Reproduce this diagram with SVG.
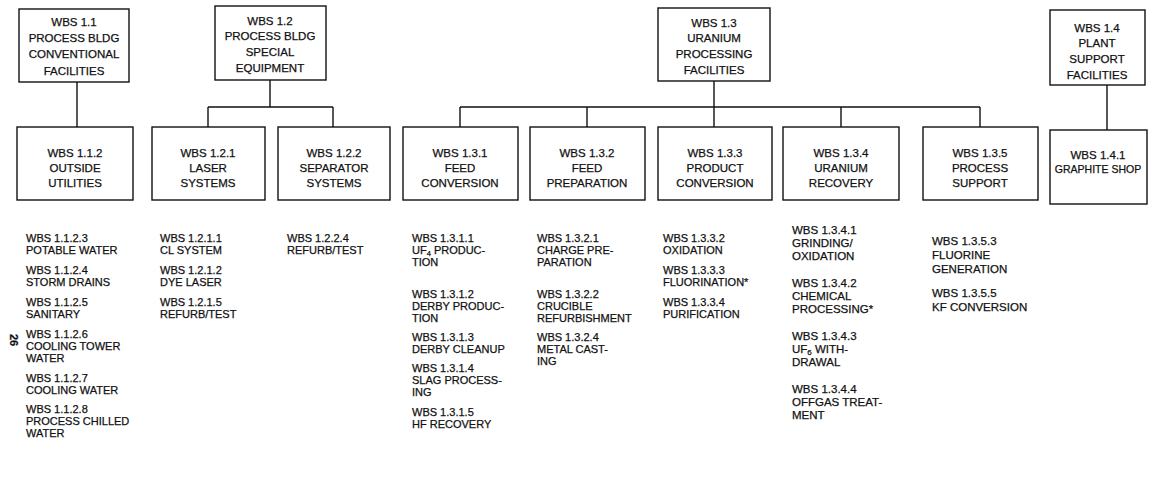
<svg xmlns="http://www.w3.org/2000/svg" width="1157" height="478" viewBox="0 0 1157 478">
<style>
.box{fill:#fff;stroke:#111;stroke-width:1.4}
.bt{font-family:"Liberation Sans",Arial,sans-serif;font-size:11.5px;fill:#111;stroke:#111;stroke-width:0.25;text-anchor:middle}
.lt{font-family:"Liberation Sans",Arial,sans-serif;font-size:11px;fill:#111;stroke:#111;stroke-width:0.25}
.lt2{font-family:"Liberation Sans",Arial,sans-serif;font-size:11.5px;fill:#111;stroke:#111;stroke-width:0.25}
.con{fill:none;stroke:#111;stroke-width:1.4}
</style>
<rect width="1157" height="478" fill="#fff"/>
<g id="connectors">
<path class="con" d="M77,82 V127"/>
<path class="con" d="M270,80 V107 M208,107 H333 M208,107 V127 M333,107 V127"/>
<path class="con" d="M714,81 V107 M460,107 H980 M460,107 V127 M587,107 V127 M714,107 V127 M841,107 V127 M980,107 V127"/>
<path class="con" d="M1107,85 V130"/>
</g>
<g id="wbs-1-1"><rect class="box" x="19" y="9" width="110" height="73"/>
<text class="bt"><tspan x="74" y="26">WBS 1.1</tspan><tspan x="74" y="42">PROCESS BLDG</tspan><tspan x="74" y="58">CONVENTIONAL</tspan><tspan x="74" y="75">FACILITIES</tspan></text></g>
<g id="wbs-1-2"><rect class="box" x="215" y="6" width="111" height="74"/>
<text class="bt"><tspan x="270" y="25">WBS 1.2</tspan><tspan x="270" y="40">PROCESS BLDG</tspan><tspan x="270" y="56">SPECIAL</tspan><tspan x="270" y="72">EQUIPMENT</tspan></text></g>
<g id="wbs-1-3"><rect class="box" x="658" y="8" width="112" height="73"/>
<text class="bt"><tspan x="714" y="27">WBS 1.3</tspan><tspan x="714" y="42">URANIUM</tspan><tspan x="714" y="58">PROCESSING</tspan><tspan x="714" y="74">FACILITIES</tspan></text></g>
<g id="wbs-1-4"><rect class="box" x="1050" y="10" width="95" height="75"/>
<text class="bt"><tspan x="1097" y="32">WBS 1.4</tspan><tspan x="1097" y="47">PLANT</tspan><tspan x="1097" y="63">SUPPORT</tspan><tspan x="1097" y="79">FACILITIES</tspan></text></g>

<g id="wbs-1-1-2"><rect class="box" x="17" y="127" width="116" height="73"/>
<text class="bt"><tspan x="75" y="157">WBS 1.1.2</tspan><tspan x="75" y="172">OUTSIDE</tspan><tspan x="75" y="187">UTILITIES</tspan></text></g>
<g id="wbs-1-2-1"><rect class="box" x="152" y="127" width="113" height="73"/>
<text class="bt"><tspan x="208" y="157">WBS 1.2.1</tspan><tspan x="208" y="172">LASER</tspan><tspan x="208" y="187">SYSTEMS</tspan></text></g>
<g id="wbs-1-2-2"><rect class="box" x="278" y="127" width="112" height="73"/>
<text class="bt"><tspan x="334" y="157">WBS 1.2.2</tspan><tspan x="334" y="172">SEPARATOR</tspan><tspan x="334" y="187">SYSTEMS</tspan></text></g>
<g id="wbs-1-3-1"><rect class="box" x="403" y="127" width="115" height="73"/>
<text class="bt"><tspan x="460" y="157">WBS 1.3.1</tspan><tspan x="460" y="172">FEED</tspan><tspan x="460" y="187">CONVERSION</tspan></text></g>
<g id="wbs-1-3-2"><rect class="box" x="530" y="127" width="115" height="73"/>
<text class="bt"><tspan x="587" y="157">WBS 1.3.2</tspan><tspan x="587" y="172">FEED</tspan><tspan x="587" y="187">PREPARATION</tspan></text></g>
<g id="wbs-1-3-3"><rect class="box" x="658" y="127" width="114" height="73"/>
<text class="bt"><tspan x="715" y="157">WBS 1.3.3</tspan><tspan x="715" y="172">PRODUCT</tspan><tspan x="715" y="187">CONVERSION</tspan></text></g>
<g id="wbs-1-3-4"><rect class="box" x="783" y="127" width="116" height="73"/>
<text class="bt"><tspan x="841" y="157">WBS 1.3.4</tspan><tspan x="841" y="172">URANIUM</tspan><tspan x="841" y="187">RECOVERY</tspan></text></g>
<g id="wbs-1-3-5"><rect class="box" x="923" y="127" width="115" height="73"/>
<text class="bt"><tspan x="980" y="157">WBS 1.3.5</tspan><tspan x="980" y="172">PROCESS</tspan><tspan x="980" y="187">SUPPORT</tspan></text></g>
<g id="wbs-1-4-1"><rect class="box" x="1050" y="130" width="97" height="74"/>
<text class="bt"><tspan x="1098" y="159">WBS 1.4.1</tspan><tspan x="1098" y="173" font-size="10.5">GRAPHITE SHOP</tspan></text></g>

<g id="list-1-1-2" class="lt">
<text x="26" y="242">WBS 1.1.2.3</text><text x="26" y="254">POTABLE WATER</text>
<text x="26" y="274">WBS 1.1.2.4</text><text x="26" y="286">STORM DRAINS</text>
<text x="26" y="306">WBS 1.1.2.5</text><text x="26" y="318">SANITARY</text>
<text x="26" y="338">WBS 1.1.2.6</text><text x="26" y="350">COOLING TOWER</text><text x="26" y="362">WATER</text>
<text x="26" y="382">WBS 1.1.2.7</text><text x="26" y="394">COOLING WATER</text>
<text x="26" y="413">WBS 1.1.2.8</text><text x="26" y="425">PROCESS CHILLED</text><text x="26" y="437">WATER</text>
</g>
<g id="list-1-2-1" class="lt">
<text x="160" y="242">WBS 1.2.1.1</text><text x="160" y="254">CL SYSTEM</text>
<text x="160" y="274">WBS 1.2.1.2</text><text x="160" y="286">DYE LASER</text>
<text x="160" y="306">WBS 1.2.1.5</text><text x="160" y="318">REFURB/TEST</text>
</g>
<g id="list-1-2-2" class="lt">
<text x="287" y="242">WBS 1.2.2.4</text><text x="287" y="254">REFURB/TEST</text>
</g>
<g id="list-1-3-1" class="lt">
<text x="412" y="242">WBS 1.3.1.1</text><text x="412" y="254">UF<tspan font-size="7.5" dy="1.5">4</tspan><tspan dy="-1.5"> PRODUC-</tspan></text><text x="412" y="266">TION</text>
<text x="412" y="298">WBS 1.3.1.2</text><text x="412" y="310">DERBY PRODUC-</text><text x="412" y="322">TION</text>
<text x="412" y="341">WBS 1.3.1.3</text><text x="412" y="353">DERBY CLEANUP</text>
<text x="412" y="372">WBS 1.3.1.4</text><text x="412" y="384">SLAG PROCESS-</text><text x="412" y="396">ING</text>
<text x="412" y="416">WBS 1.3.1.5</text><text x="412" y="428">HF RECOVERY</text>
</g>
<g id="list-1-3-2" class="lt">
<text x="537" y="242">WBS 1.3.2.1</text><text x="537" y="254">CHARGE PRE-</text><text x="537" y="266">PARATION</text>
<text x="537" y="298">WBS 1.3.2.2</text><text x="537" y="310">CRUCIBLE</text><text x="537" y="322">REFURBISHMENT</text>
<text x="537" y="341">WBS 1.3.2.4</text><text x="537" y="353">METAL CAST-</text><text x="537" y="365">ING</text>
</g>
<g id="list-1-3-3" class="lt">
<text x="663" y="242">WBS 1.3.3.2</text><text x="663" y="254">OXIDATION</text>
<text x="663" y="274">WBS 1.3.3.3</text><text x="663" y="286">FLUORINATION*</text>
<text x="663" y="306">WBS 1.3.3.4</text><text x="663" y="318">PURIFICATION</text>
</g>
<g id="list-1-3-4" class="lt2">
<text x="792" y="234">WBS 1.3.4.1</text><text x="792" y="247">GRINDING/</text><text x="792" y="260">OXIDATION</text>
<text x="792" y="287">WBS 1.3.4.2</text><text x="792" y="300">CHEMICAL</text><text x="792" y="313">PROCESSING*</text>
<text x="792" y="340">WBS 1.3.4.3</text><text x="792" y="353">UF<tspan font-size="8" dy="1.5">6</tspan><tspan dy="-1.5"> WITH-</tspan></text><text x="792" y="366">DRAWAL</text>
<text x="792" y="393">WBS 1.3.4.4</text><text x="792" y="406">OFFGAS TREAT-</text><text x="792" y="419">MENT</text>
</g>
<g id="list-1-3-5" class="lt2">
<text x="932" y="245">WBS 1.3.5.3</text><text x="932" y="259">FLUORINE</text><text x="932" y="273">GENERATION</text>
<text x="932" y="297">WBS 1.3.5.5</text><text x="932" y="311">KF CONVERSION</text>
</g>
<text class="lt" font-size="13" font-weight="bold" transform="translate(10,340) rotate(90)" text-anchor="middle">26</text>
</svg>
